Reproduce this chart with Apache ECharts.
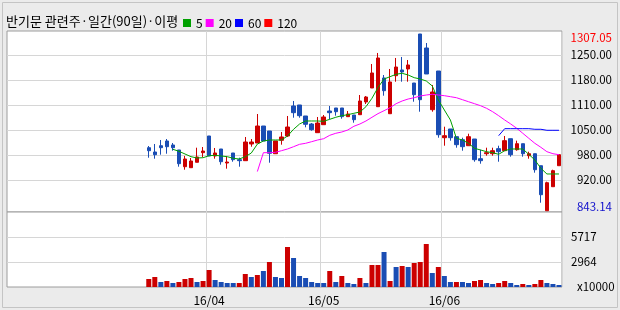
<!DOCTYPE html>
<html><head><meta charset="utf-8">
<script src="https://cdn.jsdelivr.net/npm/echarts@6/dist/echarts.min.js"></script>
<style>html,body{margin:0;padding:0;background:#ebebeb}#c{width:620px;height:310px}</style>
</head><body><div id="c"></div><script>
const TITLE = '반기문 관련주·일간(90일)·이평';
const MA_NAMES = ['5', '20', '60', '120'];
const LEAD_SLOTS = 23;
const DATES = [
 '2016-03-18','2016-03-21','2016-03-22','2016-03-23','2016-03-24','2016-03-25','2016-03-28','2016-03-29','2016-03-30','2016-03-31',
 '2016-04-01','2016-04-04','2016-04-05','2016-04-06','2016-04-07','2016-04-08','2016-04-11','2016-04-12','2016-04-14','2016-04-15',
 '2016-04-18','2016-04-19','2016-04-20','2016-04-21','2016-04-22','2016-04-25','2016-04-26','2016-04-27','2016-04-28',
 '2016-05-02','2016-05-03','2016-05-04','2016-05-09','2016-05-10','2016-05-11','2016-05-12','2016-05-13','2016-05-16','2016-05-17',
 '2016-05-18','2016-05-19','2016-05-20','2016-05-23','2016-05-24','2016-05-25','2016-05-26','2016-05-27','2016-05-30','2016-05-31',
 '2016-06-01','2016-06-02','2016-06-03','2016-06-07','2016-06-08','2016-06-09','2016-06-10','2016-06-13','2016-06-14','2016-06-15',
 '2016-06-16','2016-06-17','2016-06-20','2016-06-21','2016-06-22','2016-06-23','2016-06-24','2016-06-27','2016-06-28','2016-06-29'
];
const OPEN = [1008.6,997.3,1013.8,1026.2,1015.7,1002.6,958.7,956.1,970.3,995.5,
 1039.3,986.8,1005.2,968.4,994.7,977.1,974.5,1018.3,1020.9,1065.5,
 1052.4,992.8,1028.0,1039.3,1118.1,1120.7,1091.8,1070.8,1048.0,1069.0,
 1104.9,1112.8,1112.8,1090.0,1094.4,1095.2,1128.6,1165.3,1116.2,1191.6,
 1097.8,1197.6,1212.6,1215.2,1178.4,1307.05,1270.3,1108.3,1209.9,1034.8,
 1057.7,1037.5,1029.6,1013.8,1031.4,979.7,992.8,992.8,1006.0,1000.7,
 1032.2,1003.3,1019.1,987.6,992.8,961.3,843.14,906.2,961.3];
const CLOSE = [1000.7,990.2,1008.6,1011.2,1008.6,966.6,978.9,973.7,984.2,999.9,
 986.8,994.7,971.8,971.0,977.1,974.5,1023.5,1023.5,1065.5,1026.2,
 993.9,1026.2,1036.7,1062.9,1100.5,1092.6,1070.0,1055.8,1073.4,1089.2,
 1100.5,1103.1,1090.0,1097.0,1082.1,1131.2,1141.7,1204.7,1244.1,1158.2,
 1181.1,1220.4,1207.3,1225.7,1147.7,1134.6,1202.1,1154.8,1042.7,1040.1,
 1034.8,1016.5,1011.2,1037.5,977.1,974.5,995.5,1000.7,998.1,1027.0,
 990.2,1019.1,992.8,992.8,950.8,885.2,916.7,948.2,990.2];
const HIGH = [1013.0,1018.3,1028.8,1031.4,1020.9,1002.6,986.8,981.6,1008.6,1010.4,
 1039.3,1007.8,1005.2,986.8,994.7,982.3,1036.7,1031.4,1097.0,1065.5,
 1052.4,1026.2,1049.8,1091.8,1131.2,1120.7,1091.8,1073.4,1089.2,1094.4,
 1118.1,1112.8,1112.8,1104.9,1094.4,1146.9,1144.3,1228.3,1257.2,1199.4,
 1215.2,1244.1,1246.7,1238.8,1178.4,1307.05,1283.4,1173.2,1209.9,1063.7,
 1057.7,1037.5,1034.8,1045.3,1031.4,1003.3,1008.6,1008.6,1013.8,1039.3,
 1032.2,1027.0,1019.1,998.1,992.8,961.3,919.3,950.8,990.2];
const LOW = [982.3,979.7,990.2,992.8,1000.7,958.7,950.8,956.1,970.3,984.2,
 986.8,979.7,964.0,953.5,971.8,958.7,974.5,1011.2,1020.9,1026.2,
 969.2,992.8,1016.5,1036.7,1087.3,1087.3,1062.1,1053.2,1048.0,1069.0,
 1083.1,1092.6,1084.7,1090.0,1074.2,1095.2,1123.3,1165.3,1116.2,1145.1,
 1097.8,1181.8,1181.8,1181.8,1129.3,1103.1,1202.1,1103.1,1034.8,1013.8,
 1027.0,1008.6,1000.7,1013.8,971.8,966.6,987.6,987.6,971.8,1000.7,
 985.0,1000.7,985.0,979.7,943.0,864.2,843.14,906.2,961.3];
const VOLUME = [1092,1312,762,872,651,762,1092,1202,762,872,
 2083,982,762,651,651,651,1642,1312,1532,1973,
 2963,1312,1202,4615,3404,1422,1202,762,651,651,
 1973,762,1422,651,541,1202,651,2633,2633,4065,
 872,2413,2523,2413,2853,2963,4945,1752,2413,1422,
 762,762,762,651,872,982,651,541,651,872,
 651,431,541,431,541,982,651,541,431];
const VOL_UP = [1,1,0,1,0,1,1,1,0,1, 1,0,0,0,0,1,1,0,1,0, 1,0,0,1,0,0,0,0,0,0,
 1,0,1,0,0,1,0,1,1,0, 1,0,1,0,1,1,1,0,1,0, 0,1,0,0,1,1,0,0,1,1, 0,0,1,0,1,1,0,0,0];
const MA5 = [null,null,null,null,1004.4,999.1,992.1,985.0,981.6,982.3,
 987.6,988.6,986.8,985.0,980.8,978.9,985.0,994.7,1018.0,1026.2,
 1028.8,1028.8,1028.8,1039.3,1056.9,1070.8,1078.7,1078.7,1078.7,1077.9,
 1083.1,1088.4,1092.6,1095.2,1098.9,1102.3,1116.2,1138.3,1166.6,1188.9,
 1195.0,1201.3,1203.9,1199.4,1192.4,1188.9,1183.7,1170.5,1133.8,1107.5,
 1081.3,1033.2,1028.8,1020.1,1007.0,1002.6,998.1,995.5,991.2,1000.7,
 1005.2,1005.2,1005.2,991.2,976.3,954.5,939.6,939.6,939.6];
const MA20 = [null,null,null,null,null,null,null,null,null,null,
 null,null,null,null,null,null,null,null,946.0,995.5,
 995.5,996.5,1000.7,1005.2,1011.2,1017.5,1020.1,1024.4,1028.8,1032.2,
 1041.1,1046.4,1049.8,1055.1,1064.8,1070.8,1078.7,1088.4,1098.0,1105.7,
 1113.6,1124.1,1131.2,1136.4,1139.8,1144.3,1146.9,1148.8,1146.9,1145.1,
 1142.5,1139.8,1134.6,1129.3,1124.1,1118.8,1112.0,1103.1,1092.6,1081.3,
 1070.8,1059.5,1046.4,1033.2,1020.1,1009.6,998.1,992.8,990.2];
const MA60 = [null,null,null,null,null,null,null,null,null,null,
 null,null,null,null,null,null,null,null,null,null,
 null,null,null,null,null,null,null,null,null,null,
 null,null,null,null,null,null,null,null,null,null,
 null,null,null,null,null,null,null,null,null,null,
 null,null,null,null,null,null,null,null,1040.1,1058.5,
 1058.5,1058.5,1058.5,1058.5,1056.9,1056.9,1054.3,1054.3,1054.3];
const PRICE_AXIS = [839.8, 1314.9];
const PRICE_TICK_VALUES = [1251.9, 1186.3, 1120.7, 1055.0, 989.4, 923.8];
const PRICE_TICK_LABELS = ['1250.00', '1180.00', '1110.00', '1050.00', '980.00', '920.00'];
const VOL_TICKS = [2964, 5717];
const VOL_UNIT = 'x10000';

const RED = '#cc0000', BLUE = '#1a4db4', GRIDC = '#d6d6d6', BORDER = '#9c9c9c';
const FONT = 'Noto Sans CJK KR';
const pad = a => Array(LEAD_SLOTS).fill(null).concat(a);
const CATS = Array(LEAD_SLOTS).fill('').concat(DATES);
const monthStart = (i) => { const d = CATS[i], p = CATS[i - 1]; return !!d && !!p && d.slice(0, 7) !== p.slice(0, 7); };
const hiVal = Math.max(...HIGH), loVal = Math.min(...LOW);
const volStep = VOL_TICKS[1] - VOL_TICKS[0];
const VOL_MIN = VOL_TICKS[0] - volStep, VOL_MAX = VOL_TICKS[1] + volStep;

const candleData = pad(DATES.map((d, i) => [OPEN[i], CLOSE[i], LOW[i], HIGH[i]])).map(v => v === null ? '-' : v);
const volData = pad(VOLUME.map((v, i) => ({ value: v, itemStyle: { color: VOL_UP[i] ? RED : BLUE } }))).map(v => v === null ? '-' : v);

const chart = echarts.init(document.getElementById('c'), null, { renderer: 'canvas' });
const xBase = (gi, showLabel) => ({
  type: 'category', gridIndex: gi, data: CATS, boundaryGap: true,
  axisLine: { show: false }, axisTick: { show: false },
  axisLabel: showLabel ? { show: true, interval: (i) => monthStart(i), formatter: v => v.slice(2, 4) + '/' + v.slice(5, 7),
    margin: 7, fontSize: 12, fontFamily: FONT, color: '#000' } : { show: false },
  splitLine: { show: true, interval: (i) => monthStart(i), lineStyle: { color: GRIDC, width: 1 } }
});
const maLine = (name, data, color) => ({
  name, type: 'line', xAxisIndex: 0, yAxisIndex: 0, data: pad(data), color,
  showSymbol: false, symbol: 'none', connectNulls: false, silent: true,
  lineStyle: { color, width: 1 }, itemStyle: { color }, z: 5
});
chart.setOption({
  animation: false,
  backgroundColor: '#ebebeb',
  title: { text: TITLE, left: 6, top: 15, padding: 0,
    textStyle: { fontSize: 13, fontWeight: 'normal', color: '#000', fontFamily: FONT } },
  legend: { data: MA_NAMES, left: 183, top: 17, padding: 0, itemWidth: 8, itemHeight: 8, itemGap: 3, icon: 'rect',
    selectedMode: false, textStyle: { fontSize: 12, color: '#000', fontFamily: FONT } },
  graphic: [{ type: 'rect', shape: { x: 2.5, y: 2.5, width: 615, height: 305 }, style: { fill: 'none', stroke: '#c4c4c4' }, silent: true, z: -10 }],
  grid: [
    { left: 7, right: 58, top: 31, height: 181, show: true, backgroundColor: '#fff', borderColor: BORDER, borderWidth: 1 },
    { left: 7, right: 58, top: 212, height: 75, show: true, backgroundColor: '#fff', borderColor: BORDER, borderWidth: 1 }
  ],
  xAxis: [xBase(0, false), xBase(1, true)],
  yAxis: [
    { type: 'value', gridIndex: 0, position: 'right', min: PRICE_AXIS[0], max: PRICE_AXIS[1], scale: true,
      axisLine: { show: false }, axisTick: { show: false, customValues: PRICE_TICK_VALUES },
      splitLine: { show: true, lineStyle: { color: GRIDC, width: 1 } },
      axisLabel: { customValues: [hiVal].concat(PRICE_TICK_VALUES, [loVal]), align: 'right', margin: 50,
        fontSize: 11.5, fontFamily: FONT, color: '#000',
        formatter: (v) => {
          if (Math.abs(v - hiVal) < 1e-6) return '{hi|' + hiVal.toFixed(2) + '}';
          if (Math.abs(v - loVal) < 1e-6) return '{lo|' + loVal.toFixed(2) + '}';
          const k = PRICE_TICK_VALUES.findIndex(t => Math.abs(t - v) < 1e-6);
          return k >= 0 ? PRICE_TICK_LABELS[k] : '';
        },
        rich: { hi: { color: '#ff0000', fontSize: 11.5, fontFamily: FONT, padding: [8, 0, 0, 0] },
                lo: { color: '#1010cc', fontSize: 11.5, fontFamily: FONT, padding: [0, 0, 8, 0] } } } },
    { type: 'value', gridIndex: 1, position: 'right', min: VOL_MIN, max: VOL_MAX,
      axisLine: { show: false }, axisTick: { show: false, customValues: VOL_TICKS },
      splitLine: { show: true, lineStyle: { color: GRIDC, width: 1 } },
      axisLabel: { customValues: [VOL_MIN].concat(VOL_TICKS), align: 'left', margin: 9,
        fontSize: 11.5, fontFamily: FONT, color: '#000',
        formatter: (v) => Math.abs(v - VOL_MIN) < 1e-6 ? '{u|' + VOL_UNIT + '}' : String(Math.round(v)),
        rich: { u: { fontSize: 11.5, fontFamily: FONT, color: '#000', padding: [0, 0, 0, 6] } } } }
  ],
  series: [
    { name: 'price', type: 'candlestick', xAxisIndex: 0, yAxisIndex: 0, data: candleData, barWidth: 4, silent: true,
      itemStyle: { color: RED, color0: BLUE, borderColor: RED, borderColor0: BLUE, borderWidth: 1 } },
    maLine(MA_NAMES[0], MA5, '#00a000'),
    maLine(MA_NAMES[1], MA20, '#ff00ff'),
    maLine(MA_NAMES[2], MA60, '#0000ff'),
    maLine(MA_NAMES[3], [], '#ff0000'),
    { name: 'volume', type: 'bar', xAxisIndex: 1, yAxisIndex: 1, data: volData, barWidth: 5, silent: true }
  ]
});
</script></body></html>
